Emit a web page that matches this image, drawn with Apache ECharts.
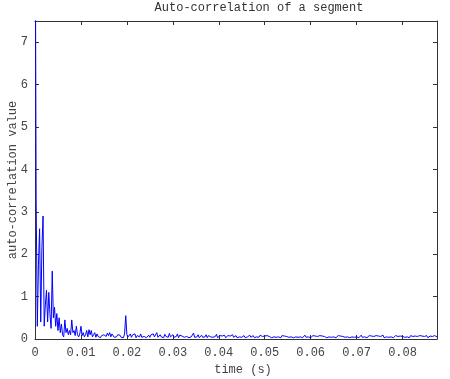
<!DOCTYPE html>
<html>
<head>
<meta charset="utf-8">
<script src="https://cdn.jsdelivr.net/npm/echarts@6/dist/echarts.min.js"></script>
<style>
  html, body { margin: 0; padding: 0; background: #fff; }
  #acChart { width: 450px; height: 379px; }
</style>
</head>
<body>
<div id="acChart"></div>
<script>
// sample spacing (s) of the auto-correlation values below
const dt = 0.00025;

const xTickLabels = ['0', '0.01', '0.02', '0.03', '0.04', '0.05', '0.06', '0.07', '0.08'];
const yTickLabels = ['0', '1', '2', '3', '4', '5', '6', '7'];

// one value per dt
const acValues = [
  12, 3.3, 0.3, 1.75, 2.6, 0.4, 2.15, 2.9, 0.3, 0.8,
  1.15, 0.4, 1.1, 0.6, 0.25, 1.6, 0.5, 0.75, 0.3, 0.6,
  0.2, 0.5, 0.15, 0.35, 0.1, 0.05, 0.45, 0.15, 0.25, 0.1,
  0.2, 0.1, 0.45, 0.15, 0.2, 0.08, 0.3, 0.1, 0.05, 0.12,
  0.3, 0.08, 0.15, 0.05, 0.1, 0.2, 0.05, 0.22, 0.1, 0.2,
  0.05, 0.1, 0.15, 0.04, 0.12, 0.06, 0.1, 0.03, 0.08, 0.05,
  0.1, 0.12, 0.06, 0.14, 0.08, 0.15, 0.05, 0.12, 0.1, 0.04,
  0.08, 0.05, 0.1, 0.06, 0.09, 0.04, 0.08, 0.03, 0.12, 0.55,
  0.1, 0.05, 0.08, 0.12, 0.04, 0.1, 0.06, 0.12, 0.03, 0.08,
  0.1, 0.05, 0.12, 0.04, 0.08, 0.06, 0.1, 0.03, 0.07, 0.09,
  0.04, 0.1, 0.06, 0.12, 0.05, 0.08, 0.15, 0.04, 0.07, 0.1,
  0.05, 0.09, 0.03, 0.11, 0.06, 0.08, 0.04, 0.13, 0.05, 0.07,
  0.1, 0.04, 0.08, 0.06, 0.12, 0.03, 0.09, 0.05, 0.07, 0.11,
  0.04, 0.08, 0.06, 0.1, 0.03, 0.07, 0.05, 0.09, 0.14, 0.04,
  0.08, 0.05, 0.1, 0.03, 0.06, 0.09, 0.04, 0.07, 0.05, 0.1,
  0.03, 0.08, 0.06, 0.05, 0.09, 0.04, 0.07, 0.06, 0.11, 0.03,
  0.06, 0.08, 0.04, 0.07, 0.05, 0.09, 0.03, 0.06, 0.08, 0.04,
  0.07, 0.05, 0.1, 0.04, 0.06, 0.08, 0.03, 0.07, 0.05, 0.09,
  0.04, 0.06, 0.08, 0.03, 0.07, 0.05, 0.06, 0.09, 0.04, 0.06,
  0.08, 0.03, 0.06, 0.05, 0.07, 0.04, 0.09, 0.05, 0.06, 0.03,
  0.07, 0.05, 0.08, 0.04, 0.06, 0.1, 0.03, 0.06, 0.05, 0.08,
  0.04, 0.07, 0.05, 0.06, 0.03, 0.08, 0.05, 0.07, 0.04, 0.06,
  0.09, 0.04, 0.06, 0.05, 0.08, 0.03, 0.07, 0.05, 0.06, 0.04,
  0.08, 0.05, 0.07, 0.03, 0.06, 0.09, 0.04, 0.06, 0.05, 0.07,
  0.03, 0.06, 0.08, 0.04, 0.07, 0.05, 0.06, 0.03, 0.08, 0.05,
  0.07, 0.04, 0.06, 0.09, 0.03, 0.06, 0.05, 0.08, 0.04, 0.06,
  0.05, 0.07, 0.03, 0.06, 0.08, 0.04, 0.07, 0.05, 0.06, 0.1,
  0.04, 0.06, 0.05, 0.08, 0.03, 0.07, 0.05, 0.06, 0.04, 0.08,
  0.05, 0.07, 0.03, 0.06, 0.09, 0.04, 0.06, 0.05, 0.07, 0.03,
  0.06, 0.08, 0.04, 0.07, 0.05, 0.06, 0.03, 0.08, 0.05, 0.07,
  0.04, 0.06, 0.05, 0.09, 0.03, 0.07, 0.05, 0.06, 0.04, 0.08,
  0.05, 0.07, 0.03, 0.06, 0.08, 0.04, 0.06, 0.05, 0.07, 0.03,
  0.06, 0.09, 0.04, 0.07, 0.05, 0.06, 0.03, 0.08, 0.05, 0.06,
  0.04, 0.07, 0.05, 0.06, 0.03, 0.08, 0.05, 0.07, 0.04, 0.06,
  0.05, 0.08, 0.03, 0.06, 0.07, 0.04, 0.06, 0.05, 0.08, 0.04,
  0.05
];

const monoFont = '"Liberation Mono", "DejaVu Sans Mono", monospace';
const textColor = '#444';
const boxColor = '#333';

let acChart = echarts.init(document.getElementById('acChart'));

let frameAxis = {
  axisLine: { show: true, onZero: false, lineStyle: { color: boxColor, width: 1 } },
  axisTick: { show: true, inside: true, length: 4, lineStyle: { color: boxColor } },
  axisLabel: { show: false },
  splitLine: { show: false }
};

let option = {
  animation: false,
  backgroundColor: '#fff',
  title: {
    text: 'Auto-correlation of a segment',
    left: 259,
    top: 2,
    padding: 0,
    textAlign: 'center',
    textStyle: { fontFamily: monoFont, fontSize: 12, fontWeight: 'normal', color: '#333' }
  },
  grid: { left: 35, right: 13, top: 21, bottom: 40, containLabel: false, outerBoundsMode: 'none' },
  xAxis: [
    {
      type: 'value',
      min: 0,
      max: 0.0875,
      interval: 0.01,
      name: 'time (s)',
      nameLocation: 'middle',
      nameGap: 25,
      nameMoveOverlap: false,
      nameTextStyle: { fontFamily: monoFont, fontSize: 12, color: textColor, padding: [0, 0, 0, 14] },
      axisLine: { show: true, onZero: false, lineStyle: { color: boxColor, width: 1 } },
      axisTick: { show: true, inside: true, length: 4, lineStyle: { color: boxColor } },
      splitLine: { show: false },
      axisLabel: {
        fontFamily: monoFont, fontSize: 12, color: textColor, margin: 8,
        formatter: function (v) { return xTickLabels[Math.round(v / 0.01)] || ''; }
      }
    },
    Object.assign({ type: 'value', position: 'top', min: 0, max: 0.0875, interval: 0.01 }, frameAxis)
  ],
  yAxis: [
    {
      type: 'value',
      min: 0,
      max: 7.5,
      interval: 1,
      name: 'auto-correlation value',
      nameLocation: 'middle',
      nameGap: 16,
      nameMoveOverlap: false,
      nameTextStyle: { fontFamily: monoFont, fontSize: 12, color: textColor },
      axisLine: { show: true, onZero: false, lineStyle: { color: boxColor, width: 1 } },
      axisTick: { show: true, inside: true, length: 4, lineStyle: { color: boxColor } },
      splitLine: { show: false },
      axisLabel: {
        fontFamily: monoFont, fontSize: 12, color: textColor, margin: 7,
        formatter: function (v) { return yTickLabels[Math.round(v)] || ''; }
      }
    },
    Object.assign({ type: 'value', position: 'right', min: 0, max: 7.5, interval: 1 }, frameAxis)
  ],
  series: [
    {
      type: 'line',
      data: acValues.map(function (v, i) { return [i * dt, v]; }),
      showSymbol: false,
      clip: true,
      color: '#0000ff',
      lineStyle: { width: 1, color: '#0000ff' }
    }
  ]
};

acChart.setOption(option);
</script>
</body>
</html>
